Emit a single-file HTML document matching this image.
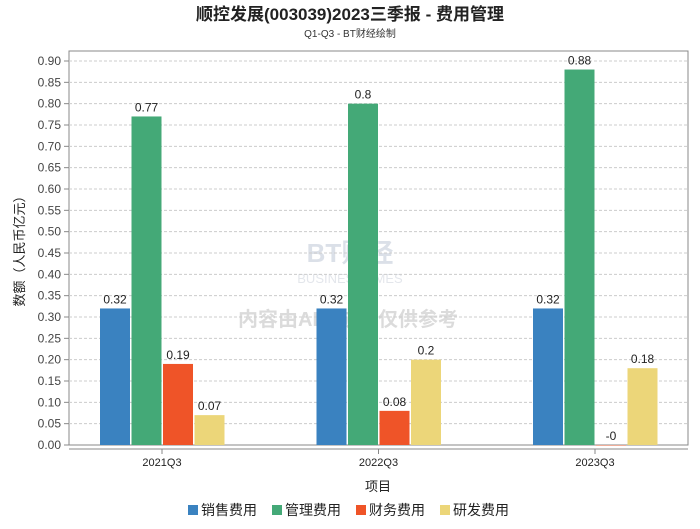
<!DOCTYPE html>
<html><head><meta charset="utf-8"><style>
body{margin:0;background:#fff;font-family:"Liberation Sans","Noto Sans CJK SC",sans-serif}
svg text{font-family:"Liberation Sans","Noto Sans CJK SC",sans-serif}
</style></head><body>
<svg id="c" width="700" height="524" xmlns="http://www.w3.org/2000/svg">
<text x="350" y="20" text-anchor="middle" font-size="17" font-weight="bold" fill="#222">顺控发展(003039)2023三季报 - 费用管理</text>
<text x="350" y="37" text-anchor="middle" font-size="10" fill="#333">Q1-Q3 - BT财经绘制</text>
<g opacity="0.35">
<text x="350" y="262" text-anchor="middle" font-size="26" font-weight="bold" fill="#9aa8c0">BT财经</text>
<text x="350" y="283" text-anchor="middle" font-size="13" fill="#b0b8c8">BUSINESSTIMES</text>
<text x="348" y="326" text-anchor="middle" font-size="20" font-weight="bold" fill="#999">内容由AI生成，仅供参考</text>
</g>
<rect x="69" y="51" width="619" height="394" fill="none" stroke="#888"/>
<g id="grid"></g><g id="bars"></g>
<line x1="69" y1="449" x2="688" y2="449" stroke="#888"/>
<text transform="translate(24,248) rotate(-90)" text-anchor="middle" font-size="13" fill="#222">数额（人民币亿元）</text>
<text x="378" y="491" text-anchor="middle" font-size="13" fill="#222">项目</text>
<g id="legend"></g>
</svg>
<script>
const categories=["2021Q3","2022Q3","2023Q3"];
const seriesNames=["销售费用","管理费用","财务费用","研发费用"];
const colors=["#3a82c0","#44a977","#ef5428","#ecd679"];
const sales=[0.32,0.32,0.32];
const admin=[0.77,0.8,0.88];
const finance=[0.19,0.08,-0.001];
const rnd=[0.07,0.2,0.18];
const labels=[["0.32","0.32","0.32"],["0.77","0.8","0.88"],["0.19","0.08","-0"],["0.07","0.2","0.18"]];
const yTicks=[0,0.05,0.1,0.15,0.2,0.25,0.3,0.35,0.4,0.45,0.5,0.55,0.6,0.65,0.7,0.75,0.8,0.85,0.9];
const series=[sales,admin,finance,rnd];
const NS="http://www.w3.org/2000/svg";
const y=v=>445-v*(445-61)/0.9;
const xc=i=>162+i*216.5;
function mk(tag,at,parent){const e=document.createElementNS(NS,tag);for(const k in at)e.setAttribute(k,at[k]);parent.appendChild(e);return e;}
const grid=document.getElementById('grid');
yTicks.forEach(t=>{
 if(t>0){const l=mk('line',{x1:69,x2:688,y1:y(t),y2:y(t),stroke:'#ccc','stroke-dasharray':'3,2'},grid);
 
 }
 const tk=mk('line',{x1:64,x2:69,y1:y(t),y2:y(t),stroke:'#888'},grid);
 
 
 const tx=mk('text',{x:61,y:y(t)+4,'text-anchor':'end','font-size':12,fill:'#444'},grid);
 tx.textContent=t.toFixed(2);
 
 
});
const bars=document.getElementById('bars');
categories.forEach((c,i)=>{
 const tk=mk('line',{x1:xc(i),x2:xc(i),y1:449,y2:454,stroke:'#888'},bars);
 
 
 const tx=mk('text',{x:xc(i),y:466,'text-anchor':'middle','font-size':11,fill:'#222'},bars);
 tx.textContent=c;
 
 
 series.forEach((s,j)=>{
  const x0=xc(i)-62+j*31.5;const v=s[i];
  const top=y(Math.max(v,0)),h=Math.abs(y(v)-y(0));
  const r=mk('rect',{x:x0,y:top,width:30,height:h,fill:colors[j]},bars);
  
  
  const lb=mk('text',{x:x0+15,y:top-5,'text-anchor':'middle','font-size':12,fill:'#222'},bars);
  lb.textContent=labels[j][i];
  
  
 });
});
const lg=document.getElementById('legend');
const lx=[188,272,356,440];
seriesNames.forEach((n,j)=>{
 const r=mk('rect',{x:lx[j],y:505,width:10,height:10,fill:colors[j]},lg);
 
 
 const t=mk('text',{x:lx[j]+13,y:515,'font-size':14,fill:'#222'},lg);
 t.textContent=n;
 
 
});
</script>
</body></html>
